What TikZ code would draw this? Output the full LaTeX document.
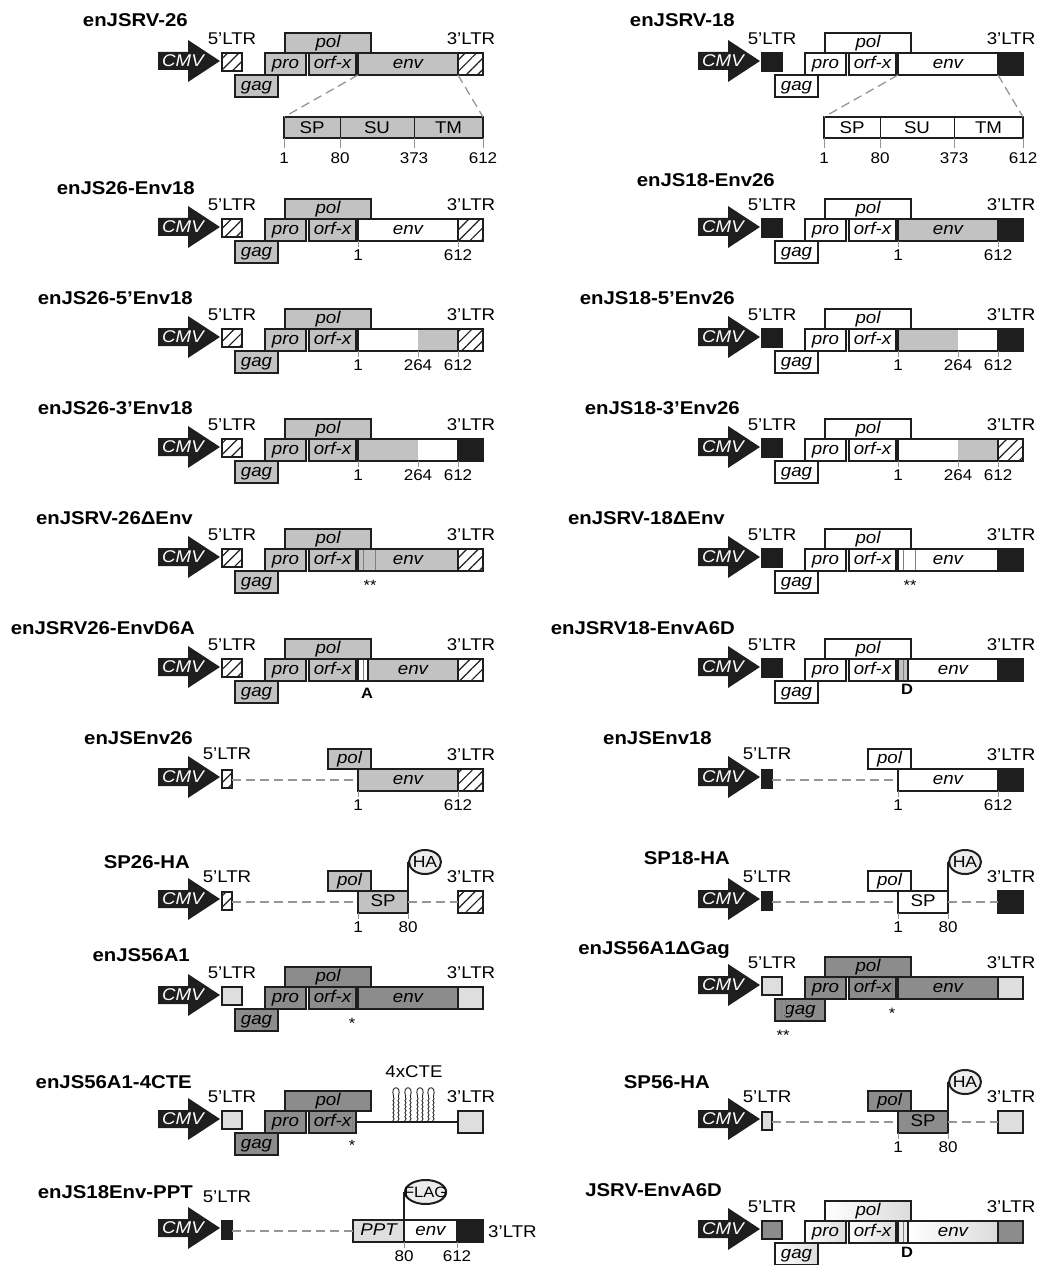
\documentclass[tikz,border=0pt]{standalone}
\usepackage{fontspec}
\setmainfont{Liberation Sans}[FakeStretch=1.1]
\usetikzlibrary{shapes.geometric, patterns.meta, decorations.pathmorphing}

\definecolor{ink}{RGB}{30,30,30}
\definecolor{c26}{RGB}{194,194,194}
\definecolor{c56}{RGB}{140,140,140}
\definecolor{cl56}{RGB}{222,222,222}
\definecolor{cA6D}{RGB}{140,140,140}
\definecolor{ctick}{RGB}{150,150,150}

% CMV promoter, 5'LTR and the gag-pro-orf-x-pol block
\newcommand{\provfront}[4]{%
  \fill[ink] (158,-12) -- (188,-12) -- (188,-24) -- (220,-3) -- (188,18) -- (188,6) -- (158,6) -- cycle;
  \node[cmv] (#1-cmv) at (183,-3) {CMV};
  \node[box, #2, anchor=west, minimum width=20pt, minimum height=18pt] (#1-ltr5) at (222,-2) {};
  \node[lbl] (#1-l5) at (232,-25) {5'LTR};
  \node[box, #3, anchor=west, minimum width=#4] (#1-gag) at (235,22) {gag};
  \node[box, #3, anchor=west, minimum width=41pt] (#1-pro) at (265,0) {pro};
  \node[box, #3, anchor=west, minimum width=47pt] (#1-orf) at (309,0) {orf-x};
  \node[box, #3, anchor=west, minimum width=86pt, minimum height=20pt] (#1-pol) at (285,-21) {pol};
}
% promoter with a short 5'LTR
\newcommand{\provshort}[3]{%
  \fill[ink] (158,-12) -- (188,-12) -- (188,-24) -- (220,-3) -- (188,18) -- (188,6) -- (158,6) -- cycle;
  \node[cmv] (#1-cmv) at (183,-3) {CMV};
  \node[box, #2, anchor=west, minimum width=10pt, minimum height=18pt] (#1-ltr5) at (222,-1) {};
  \node[lbl] (#1-l5) at (227,#3) {5'LTR};
}
% 3'LTR
\newcommand{\provltr}[2]{%
  \node[box, #2, anchor=west, minimum width=25pt] (#1-ltr3) at (458,0) {};
  \node[lbl] (#1-l3) at (471,-25) {3'LTR};
}
% env and 3'LTR
\newcommand{\provback}[4]{%
  \node[box, #2, anchor=west, minimum width=100pt] (#1-env) at (358,0) {#3};
  \provltr{#1}{#4}
}
% position mark under a box
\newcommand{\provpos}[3]{\draw[tickline] (#2) -- ++(0,6) node[num, below=2pt] (#1) {#3};}

\begin{document}
\begin{tikzpicture}[x=1pt, y=-1pt,
  box/.style={draw=ink, line width=2.4pt, inner sep=0pt, outer sep=0pt, minimum height=22pt, text height=12.5pt, text depth=3.5pt, font=\fontsize{17}{17}\selectfont\itshape},
  part/.style={inner sep=0pt, outer sep=0pt, minimum height=22pt},
  frame/.style={draw=ink, line width=2.4pt},
  seg/.style={draw=ink, line width=0.8pt, inner sep=0pt, outer sep=0pt, minimum height=21pt, font=\fontsize{17}{17}\selectfont},
  cmv/.style={text=white, inner sep=0pt, font=\fontsize{17}{17}\selectfont\itshape},
  lbl/.style={inner sep=0pt, font=\fontsize{17}{17}\selectfont},
  ttl/.style={anchor=east, inner sep=0pt, font=\fontsize{18.5}{18.5}\selectfont\bfseries},
  num/.style={inner sep=0pt, font=\fontsize{15.5}{15.5}\selectfont},
  astx/.style={inner sep=0pt, font=\fontsize{15}{15}\selectfont},
  site/.style={inner sep=0pt, font=\fontsize{15}{15}\selectfont\bfseries},
  tickline/.style={draw=ctick, line width=1pt},
  zoomline/.style={draw=ctick, line width=1.3pt, dash pattern=on 9pt off 5pt},
  gap/.style={draw=ctick, line width=1.3pt, dash pattern=on 9pt off 5pt},
  mutline/.style={draw=gray, line width=0.8pt},
  stem/.style={draw=ink, line width=0.8pt, decorate, decoration={snake, amplitude=0.6pt, segment length=4pt}},
  tag/.style={ellipse, anchor=west, draw=ink, line width=2pt, fill=gray!15, inner xsep=-1pt, inner ysep=0pt, minimum width=32pt, minimum height=24pt, font=\fontsize{16}{16}\selectfont},
  s26/.style={fill=c26}, s18/.style={fill=white}, s56/.style={fill=c56}, l56/.style={fill=cl56},
  sblack/.style={fill=ink}, sA6D/.style={left color=white, right color=gray!28}, lA6D/.style={fill=cA6D},
  hatch/.style={preaction={fill=white}, pattern color=ink, pattern={Lines[angle=45, distance=8pt, line width=1.2pt]}}]
\useasboundingbox (0,0) rectangle (1040,1265);

% titles
\node[ttl] (t-a1) at (188,20) {enJSRV-26};
\node[ttl] (t-a2) at (195,188) {enJS26-Env18};
\node[ttl] (t-a3) at (193,298) {enJS26-5'Env18};
\node[ttl] (t-a4) at (193,408) {enJS26-3'Env18};
\node[ttl] (t-a5) at (193,518) {enJSRV-26ΔEnv};
\node[ttl] (t-a6) at (195,628) {enJSRV26-EnvD6A};
\node[ttl] (t-a7) at (193,738) {enJSEnv26};
\node[ttl] (t-a8) at (190,862) {SP26-HA};
\node[ttl] (t-a9) at (190,955) {enJS56A1};
\node[ttl] (t-a10) at (192,1082) {enJS56A1-4CTE};
\node[ttl] (t-a11) at (193,1192) {enJS18Env-PPT};
\node[ttl] (t-b1) at (735,20) {enJSRV-18};
\node[ttl] (t-b2) at (775,180) {enJS18-Env26};
\node[ttl] (t-b3) at (735,298) {enJS18-5'Env26};
\node[ttl] (t-b4) at (740,408) {enJS18-3'Env26};
\node[ttl] (t-b5) at (725,518) {enJSRV-18ΔEnv};
\node[ttl] (t-b6) at (735,628) {enJSRV18-EnvA6D};
\node[ttl] (t-b7) at (712,738) {enJSEnv18};
\node[ttl] (t-b8) at (730,858) {SP18-HA};
\node[ttl] (t-b9) at (730,950) {enJS56A1ΔGag};
\node[ttl] (t-b10) at (710,1082) {SP56-HA};
\node[ttl] (t-b11) at (722,1190) {JSRV-EnvA6D};

% enJSRV-26
\begin{scope}[shift={(0,64)}]
  \provfront{a1}{hatch}{s26}{43pt}
  \provback{a1}{s26}{env}{hatch}
  \node[seg, s26, anchor=west, minimum width=56pt] (a1-sp) at (284,63.5) {SP};
  \node[seg, s26, anchor=west, minimum width=74pt] (a1-su) at (340,63.5) {SU};
  \node[seg, s26, anchor=west, minimum width=69pt] (a1-tm) at (414,63.5) {TM};
  \draw[frame] (a1-sp.north west) rectangle (a1-tm.south east);
  \draw[zoomline] (a1-env.south west) -- (a1-sp.north west);
  \draw[zoomline] (a1-env.south east) -- (a1-tm.north east);
  \draw[tickline] (a1-sp.south west) -- ++(0,10) node[num, below=4pt] (a1-n1) {1};
  \draw[tickline] (a1-su.south west) -- ++(0,10) node[num, below=4pt] (a1-n2) {80};
  \draw[tickline] (a1-tm.south west) -- ++(0,10) node[num, below=4pt] (a1-n3) {373};
  \draw[tickline] (a1-tm.south east) -- ++(0,10) node[num, below=4pt] (a1-n4) {612};
\end{scope}

% enJSRV-18
\begin{scope}[shift={(540,64)}]
  \provfront{b1}{sblack}{s18}{43pt}
  \provback{b1}{s18}{env}{sblack}
  \node[seg, s18, anchor=west, minimum width=56pt] (b1-sp) at (284,63.5) {SP};
  \node[seg, s18, anchor=west, minimum width=74pt] (b1-su) at (340,63.5) {SU};
  \node[seg, s18, anchor=west, minimum width=69pt] (b1-tm) at (414,63.5) {TM};
  \draw[frame] (b1-sp.north west) rectangle (b1-tm.south east);
  \draw[zoomline] (b1-env.south west) -- (b1-sp.north west);
  \draw[zoomline] (b1-env.south east) -- (b1-tm.north east);
  \draw[tickline] (b1-sp.south west) -- ++(0,10) node[num, below=4pt] (b1-n1) {1};
  \draw[tickline] (b1-su.south west) -- ++(0,10) node[num, below=4pt] (b1-n2) {80};
  \draw[tickline] (b1-tm.south west) -- ++(0,10) node[num, below=4pt] (b1-n3) {373};
  \draw[tickline] (b1-tm.south east) -- ++(0,10) node[num, below=4pt] (b1-n4) {612};
\end{scope}

% enJS26-Env18
\begin{scope}[shift={(0,230)}]
  \provfront{a2}{hatch}{s26}{43pt}
  \provback{a2}{s18}{env}{hatch}
  \provpos{a2-n1}{a2-env.south west}{1}
  \provpos{a2-n2}{a2-env.south east}{612}
\end{scope}

% enJS18-Env26
\begin{scope}[shift={(540,230)}]
  \provfront{b2}{sblack}{s18}{43pt}
  \provback{b2}{s26}{env}{sblack}
  \provpos{b2-n1}{b2-env.south west}{1}
  \provpos{b2-n2}{b2-env.south east}{612}
\end{scope}

% enJS26-5'Env18
\begin{scope}[shift={(0,340)}]
  \provfront{a3}{hatch}{s26}{43pt}
  \node[part, s18, anchor=west, minimum width=60pt] (a3-envl) at (358,0) {};
  \node[part, s26, anchor=west, minimum width=40pt] (a3-envr) at (418,0) {};
  \draw[frame] (a3-envl.north west) rectangle (a3-envr.south east);
  \provltr{a3}{hatch}
  \provpos{a3-n1}{a3-envl.south west}{1}
  \provpos{a3-n2}{a3-envl.south east}{264}
  \provpos{a3-n3}{a3-envr.south east}{612}
\end{scope}

% enJS18-5'Env26
\begin{scope}[shift={(540,340)}]
  \provfront{b3}{sblack}{s18}{43pt}
  \node[part, s26, anchor=west, minimum width=60pt] (b3-envl) at (358,0) {};
  \node[part, s18, anchor=west, minimum width=40pt] (b3-envr) at (418,0) {};
  \draw[frame] (b3-envl.north west) rectangle (b3-envr.south east);
  \provltr{b3}{sblack}
  \provpos{b3-n1}{b3-envl.south west}{1}
  \provpos{b3-n2}{b3-envl.south east}{264}
  \provpos{b3-n3}{b3-envr.south east}{612}
\end{scope}

% enJS26-3'Env18
\begin{scope}[shift={(0,450)}]
  \provfront{a4}{hatch}{s26}{43pt}
  \node[part, s26, anchor=west, minimum width=60pt] (a4-envl) at (358,0) {};
  \node[part, s18, anchor=west, minimum width=40pt] (a4-envr) at (418,0) {};
  \draw[frame] (a4-envl.north west) rectangle (a4-envr.south east);
  \provltr{a4}{sblack}
  \provpos{a4-n1}{a4-envl.south west}{1}
  \provpos{a4-n2}{a4-envl.south east}{264}
  \provpos{a4-n3}{a4-envr.south east}{612}
\end{scope}

% enJS18-3'Env26
\begin{scope}[shift={(540,450)}]
  \provfront{b4}{sblack}{s18}{43pt}
  \node[part, s18, anchor=west, minimum width=60pt] (b4-envl) at (358,0) {};
  \node[part, s26, anchor=west, minimum width=40pt] (b4-envr) at (418,0) {};
  \draw[frame] (b4-envl.north west) rectangle (b4-envr.south east);
  \provltr{b4}{hatch}
  \provpos{b4-n1}{b4-envl.south west}{1}
  \provpos{b4-n2}{b4-envl.south east}{264}
  \provpos{b4-n3}{b4-envr.south east}{612}
\end{scope}

% enJSRV-26 delta Env
\begin{scope}[shift={(0,560)}]
  \provfront{a5}{hatch}{s26}{43pt}
  \provback{a5}{s26}{env}{hatch}
  \draw[mutline] (363,-10) -- (363,10);
  \draw[mutline] (375,-10) -- (375,10);
  \node[astx] (a5-st) at (370,25) {**};
\end{scope}

% enJSRV-18 delta Env
\begin{scope}[shift={(540,560)}]
  \provfront{b5}{sblack}{s18}{43pt}
  \provback{b5}{s18}{env}{sblack}
  \draw[mutline] (363,-10) -- (363,10);
  \draw[mutline] (375,-10) -- (375,10);
  \node[astx] (b5-st) at (370,25) {**};
\end{scope}

% enJSRV26-EnvD6A
\begin{scope}[shift={(0,670)}]
  \provfront{a6}{hatch}{s26}{43pt}
  \node[box, s18, anchor=west, minimum width=10pt] (a6-mut) at (358,0) {};
  \draw[mutline] (363,-10) -- (363,10);
  \node[box, s26, anchor=west, minimum width=90pt] (a6-env) at (368,0) {env};
  \provltr{a6}{hatch}
  \node[site] (a6-a) at (367,23) {A};
\end{scope}

% enJSRV18-EnvA6D
\begin{scope}[shift={(540,670)}]
  \provfront{b6}{sblack}{s18}{43pt}
  \node[box, s26, anchor=west, minimum width=10pt] (b6-mut) at (358,0) {};
  \draw[mutline] (363,-10) -- (363,10);
  \node[box, s18, anchor=west, minimum width=90pt] (b6-env) at (368,0) {env};
  \provltr{b6}{sblack}
  \node[site] (b6-d) at (367,19) {D};
\end{scope}

% enJSEnv26
\begin{scope}[shift={(0,780)}]
  \provshort{a7}{hatch}{-26}
  \node[box, s26, anchor=west, minimum width=43pt, minimum height=20pt] (a7-pol) at (328,-21) {pol};
  \provback{a7}{s26}{env}{hatch}
  \draw[gap] (a7-ltr5.east |- a7-env.west) -- (a7-env.west);
  \provpos{a7-n1}{a7-env.south west}{1}
  \provpos{a7-n2}{a7-env.south east}{612}
\end{scope}

% enJSEnv18
\begin{scope}[shift={(540,780)}]
  \provshort{b7}{sblack}{-26}
  \node[box, s18, anchor=west, minimum width=43pt, minimum height=20pt] (b7-pol) at (328,-21) {pol};
  \provback{b7}{s18}{env}{sblack}
  \draw[gap] (b7-ltr5.east |- b7-env.west) -- (b7-env.west);
  \provpos{b7-n1}{b7-env.south west}{1}
  \provpos{b7-n2}{b7-env.south east}{612}
\end{scope}

% SP26-HA
\begin{scope}[shift={(0,902)}]
  \provshort{a8}{hatch}{-25}
  \node[box, s26, anchor=west, minimum width=43pt, minimum height=20pt] (a8-pol) at (328,-21) {pol};
  \node[box, s26, anchor=west, minimum width=50pt, font=\fontsize{17}{17}\selectfont] (a8-sp) at (358,0) {SP};
  \provltr{a8}{hatch}
  \node[tag] (a8-ha) at (408,-40) {HA};
  \draw[frame] (a8-sp.north east) -- (a8-ha.west);
  \draw[gap] (a8-ltr5.east |- a8-sp.west) -- (a8-sp.west);
  \draw[gap] (a8-sp.east) -- (a8-ltr3.west);
  \provpos{a8-n1}{a8-sp.south west}{1}
  \provpos{a8-n2}{a8-sp.south east}{80}
\end{scope}

% SP18-HA
\begin{scope}[shift={(540,902)}]
  \provshort{b8}{sblack}{-25}
  \node[box, s18, anchor=west, minimum width=43pt, minimum height=20pt] (b8-pol) at (328,-21) {pol};
  \node[box, s18, anchor=west, minimum width=50pt, font=\fontsize{17}{17}\selectfont] (b8-sp) at (358,0) {SP};
  \provltr{b8}{sblack}
  \node[tag] (b8-ha) at (408,-40) {HA};
  \draw[frame] (b8-sp.north east) -- (b8-ha.west);
  \draw[gap] (b8-ltr5.east |- b8-sp.west) -- (b8-sp.west);
  \draw[gap] (b8-sp.east) -- (b8-ltr3.west);
  \provpos{b8-n1}{b8-sp.south west}{1}
  \provpos{b8-n2}{b8-sp.south east}{80}
\end{scope}

% enJS56A1
\begin{scope}[shift={(0,998)}]
  \provfront{a9}{l56}{s56}{43pt}
  \provback{a9}{s56}{env}{l56}
  \draw[mutline] (352,-10) -- (352,10);
  \node[astx] (a9-st) at (352,25) {*};
\end{scope}

% enJS56A1 delta Gag
\begin{scope}[shift={(540,988)}]
  \provfront{b9}{l56}{s56}{50pt}
  \provback{b9}{s56}{env}{l56}
  \draw[mutline] (241,12) -- (241,32);
  \draw[mutline] (245,12) -- (245,32);
  \draw[mutline] (352,-10) -- (352,10);
  \node[astx] (b9-st1) at (352,25) {*};
  \node[astx] (b9-st2) at (243,47) {**};
\end{scope}

% enJS56A1-4CTE
\begin{scope}[shift={(0,1122)}]
  \provfront{a10}{l56}{s56}{43pt}
  \provltr{a10}{l56}
  \draw[ink, line width=1.3pt] (a10-orf.east) -- (a10-ltr3.west);
  \foreach \hx in {396,408,420,431} {
    \draw[stem] (\hx-2.5,0) -- (\hx-2.5,-26);
    \draw[stem] (\hx+2.5,0) -- (\hx+2.5,-26);
    \draw[ink, line width=0.9pt] (\hx-2.5,-26) .. controls (\hx-6,-37) and (\hx+6,-37) .. (\hx+2.5,-26);
  }
  \node[lbl] (a10-cte) at (414,-50) {4xCTE};
  \draw[mutline] (352,-10) -- (352,10);
  \node[astx] (a10-st) at (352,23) {*};
\end{scope}

% SP56-HA
\begin{scope}[shift={(540,1122)}]
  \provshort{b10}{l56}{-25}
  \node[box, s56, anchor=west, minimum width=43pt, minimum height=20pt] (b10-pol) at (328,-21) {pol};
  \node[box, s56, anchor=west, minimum width=50pt, font=\fontsize{17}{17}\selectfont] (b10-sp) at (358,0) {SP};
  \provltr{b10}{l56}
  \node[tag] (b10-ha) at (408,-40) {HA};
  \draw[frame] (b10-sp.north east) -- (b10-ha.west);
  \draw[gap] (b10-ltr5.east |- b10-sp.west) -- (b10-sp.west);
  \draw[gap] (b10-sp.east) -- (b10-ltr3.west);
  \provpos{b10-n1}{b10-sp.south west}{1}
  \provpos{b10-n2}{b10-sp.south east}{80}
\end{scope}

% enJS18Env-PPT
\begin{scope}[shift={(0,1231)}]
  \provshort{a11}{sblack}{-34}
  \node[box, fill=cl56, anchor=west, minimum width=51pt] (a11-ppt) at (353,0) {PPT};
  \node[box, s18, anchor=west, minimum width=53pt] (a11-env) at (404,0) {env};
  \node[box, sblack, anchor=west, minimum width=26pt] (a11-ltr3) at (457,0) {};
  \node[lbl, anchor=west] (a11-l3) at (488,1) {3'LTR};
  \node[tag, minimum width=38pt, inner xsep=-7pt, font=\fontsize{15}{15}\selectfont] (a11-flag) at (404,-39) {FLAG};
  \draw[frame] (a11-env.north west) -- (a11-flag.west);
  \draw[gap] (a11-ltr5.east |- a11-ppt.west) -- (a11-ppt.west);
  \provpos{a11-n1}{a11-env.south west}{80}
  \provpos{a11-n2}{a11-env.south east}{612}
\end{scope}

% JSRV-EnvA6D
\begin{scope}[shift={(540,1232)}]
  \provfront{b11}{lA6D}{sA6D}{43pt}
  \node[box, fill=gray!15, anchor=west, minimum width=10pt] (b11-mut) at (358,0) {};
  \draw[mutline] (363,-10) -- (363,10);
  \node[box, sA6D, anchor=west, minimum width=90pt] (b11-env) at (368,0) {env};
  \provltr{b11}{lA6D}
  \node[site] (b11-d) at (367,20) {D};
\end{scope}

\end{tikzpicture}
\end{document}
